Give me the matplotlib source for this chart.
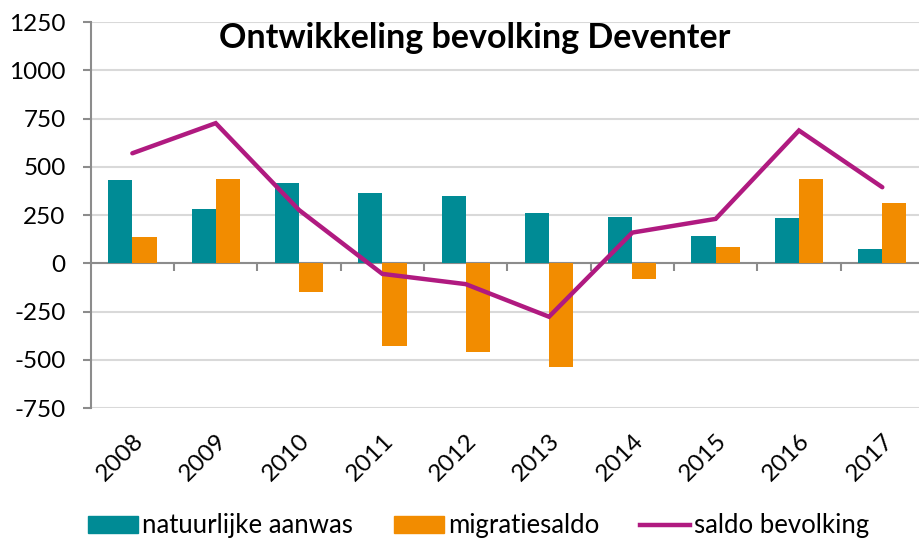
import numpy as np
from matplotlib import pyplot as plt
from matplotlib.patches import Patch
from matplotlib.lines import Line2D

years = ['2008', '2009', '2010', '2011', '2012', '2013', '2014', '2015', '2016', '2017']
natuurlijke_aanwas = [432, 283, 415, 365, 349, 259, 240, 142, 237, 76]
migratiesaldo = [135, 437, -150, -427, -458, -536, -83, 83, 439, 314]
saldo_bevolking = [570, 726, 276, -55, -108, -277, 159, 230, 688, 394]
y_ticks = [-750, -500, -250, 0, 250, 500, 750, 1000, 1250]

TEAL = '#008B95'
ORANGE = '#F28C00'
PURPLE = '#B01A80'
GRID = '#D9D9D9'
AXIS = '#8C8C8C'


def main():
    plt.rcParams['font.family'] = ['Lato', 'DejaVu Sans']

    fig = plt.figure(figsize=(9.19, 5.40), dpi=100)
    ax = fig.add_axes([0.0987, 0.2444, 0.9067, 0.7148])

    x = np.arange(len(years))
    w = 0.29
    ax.bar(x - w / 2, natuurlijke_aanwas, w, color=TEAL, zorder=3)
    ax.bar(x + w / 2, migratiesaldo, w, color=ORANGE, zorder=3)
    ax.plot(x, saldo_bevolking, color=PURPLE, linewidth=3.2, zorder=4,
            solid_capstyle='round', solid_joinstyle='miter')

    ax.set_xlim(-0.5, len(years) - 0.5)
    ax.set_ylim(-750, 1250)
    ax.set_yticks(y_ticks)
    ax.set_yticklabels([str(v) for v in y_ticks])
    ax.yaxis.grid(True, color=GRID, linewidth=1.5, zorder=0)
    ax.set_axisbelow(True)

    for side in ['top', 'right', 'bottom']:
        ax.spines[side].set_visible(False)
    ax.spines['left'].set_color(AXIS)
    ax.spines['left'].set_linewidth(1.5)

    # zero line with category tick marks
    ax.axhline(0, color=AXIS, linewidth=1.5, zorder=2)
    ax.vlines(np.arange(len(years)) + 0.5, -38, 0, color=AXIS, linewidth=1.5, zorder=2)

    ax.tick_params(axis='y', length=6, width=1.5, color=AXIS, labelsize=17.5, pad=12)
    ax.set_xticks(x)
    ax.set_xticklabels(years, rotation=45, ha='right', rotation_mode='anchor', fontsize=17.5)
    ax.tick_params(axis='x', length=0, pad=16)

    fig.text(475 / 919, 1 - 38 / 540, 'Ontwikkeling bevolking Deventer',
             ha='center', va='center', fontsize=24.5, fontweight='bold')

    handles = [
        Patch(color=TEAL, label='natuurlijke aanwas'),
        Patch(color=ORANGE, label='migratiesaldo'),
        Line2D([], [], color=PURPLE, linewidth=3.2, label='saldo bevolking'),
    ]
    fig.legend(handles=handles, loc='center', bbox_to_anchor=(0.521, 1 - 526 / 540),
               ncol=3, frameon=False, fontsize=18.5, handlelength=1.95,
               handleheight=0.62, handletextpad=0.15, columnspacing=1.6)

    fig.savefig('out.png', dpi=100)


if __name__ == "__main__":
    main()
